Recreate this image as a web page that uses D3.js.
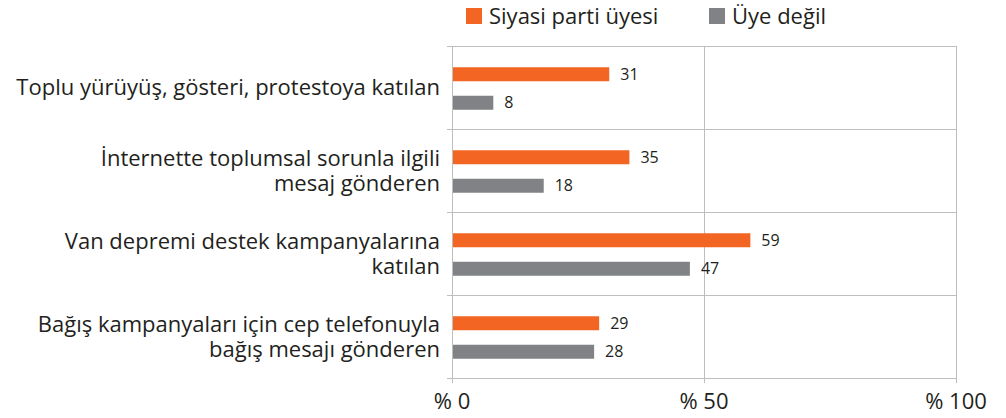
<!DOCTYPE html>
<html>
<head>
<meta charset="utf-8">
<script src="https://cdn.jsdelivr.net/npm/d3@7/dist/d3.min.js"></script>
<style>
  body { margin: 0; background: #fff; }
  svg text { font-family: "Open Sans", "Noto Sans", sans-serif; fill: #231f20; }
</style>
</head>
<body>
<svg id="chart" width="1006" height="418"></svg>
<script>
// kategoriler (satır satır)
const categories = [
  ["Toplu yürüyüş, gösteri, protestoya katılan"],
  ["İnternette toplumsal sorunla ilgili", "mesaj gönderen"],
  ["Van depremi destek kampanyalarına", "katılan"],
  ["Bağış kampanyaları için cep telefonuyla", "bağış mesajı gönderen"]
];
const seriesNames = ["Siyasi parti üyesi", "Üye değil"];
const partyMember = [31, 35, 59, 29];
const nonMember = [8, 18, 47, 28];
const tickValues = [0, 50, 100];
const tickLabels = ["% 0", "% 50", "% 100"];

const colors = ["#f26522", "#808285"];
const svg = d3.select("#chart");

const x = d3.scaleLinear().domain([0, 100]).range([452, 956]);
const y = d3.scaleBand().domain(d3.range(categories.length)).range([46, 378]).padding(0);
const inner = d3.scaleBand().domain([0, 1]).range([14, 71]);
const barH = 14;

// ızgara
const grid = svg.append("g").attr("stroke", "#bcbec0").attr("stroke-width", 1);
const hLines = d3.range(categories.length + 1).map(i => i === categories.length ? y.range()[1] : y(i));
grid.selectAll(".h").data(hLines).enter().append("line")
  .attr("x1", 447).attr("x2", x(100))
  .attr("y1", d => Math.round(d) + 0.5).attr("y2", d => Math.round(d) + 0.5);
grid.selectAll(".v").data(tickValues).enter().append("line")
  .attr("x1", d => Math.round(x(d)) + 0.5).attr("x2", d => Math.round(x(d)) + 0.5)
  .attr("y1", 46).attr("y2", 383);

// çubuklar
const series = [partyMember, nonMember];
series.forEach((vals, s) => {
  const g = svg.append("g");
  g.selectAll("rect").data(vals).enter().append("rect")
    .attr("x", x(0) + 1)
    .attr("y", (d, i) => y(i) + inner(s) + inner.bandwidth() / 2 - barH / 2)
    .attr("width", d => x(d) - x(0))
    .attr("height", barH)
    .attr("fill", colors[s]);
  g.selectAll("text").data(vals).enter().append("text")
    .attr("x", d => x(d) + 12)
    .attr("y", (d, i) => y(i) + inner(s) + inner.bandwidth() / 2)
    .attr("dy", "0.35em")
    .attr("font-size", 16)
    .text(d => d);
});

// kategori etiketleri
const lineH = 25;
categories.forEach((lines, i) => {
  const cy = y(i) + y.bandwidth() / 2;
  const t = svg.append("text")
    .attr("text-anchor", "end")
    .attr("font-size", 22);
  lines.forEach((ln, j) => {
    t.append("tspan")
      .attr("x", 440)
      .attr("y", cy + (j - (lines.length - 1) / 2) * lineH)
      .attr("dy", "0.35em")
      .text(ln);
  });
});

// x ekseni etiketleri
svg.selectAll(".tick").data(tickValues).enter().append("text")
  .attr("x", d => x(d))
  .attr("y", 409)
  .attr("text-anchor", "middle")
  .attr("font-size", 22)
  .text((d, i) => tickLabels[i]);

// lejant
const legendX = [466, 709];
seriesNames.forEach((name, s) => {
  svg.append("rect")
    .attr("x", legendX[s]).attr("y", 8)
    .attr("width", 16).attr("height", 16)
    .attr("fill", colors[s]);
  svg.append("text")
    .attr("x", legendX[s] + 23).attr("y", 16)
    .attr("dy", "0.35em")
    .attr("font-size", 22)
    .text(name);
});
</script>
</body>
</html>
